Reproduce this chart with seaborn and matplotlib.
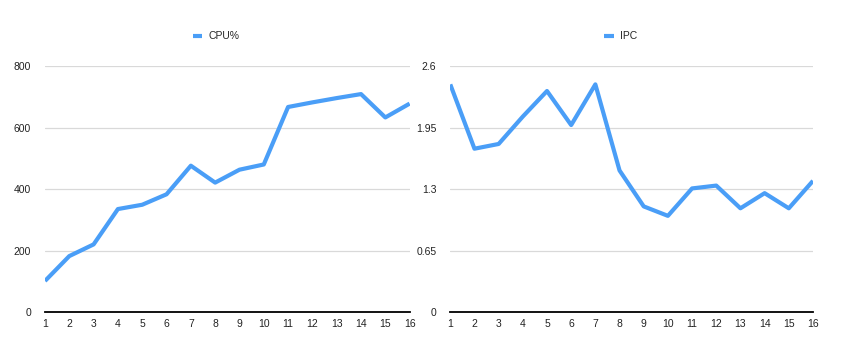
import pandas as pd
import seaborn as sns
import matplotlib.pyplot as plt

# values
runs = list(range(1, 17))
cpu_pct = [102, 183, 221, 336, 350, 384, 477, 422, 464, 481, 668, 683, 697, 710, 634, 679]
ipc = [2.41, 1.73, 1.78, 2.07, 2.34, 1.98, 2.41, 1.50, 1.12, 1.02, 1.31, 1.34, 1.10, 1.26, 1.10, 1.39]
cpu_ticks = [0, 200, 400, 600, 800]
ipc_ticks = [0, 0.65, 1.3, 1.95, 2.6]
ipc_labels = ["0", "0.65", "1.3", "1.95", "2.6"]

df = pd.DataFrame({"run": runs, "CPU%": cpu_pct, "IPC": ipc})

sns.set_style("white")
plt.rcParams["font.family"] = ["Liberation Sans", "DejaVu Sans"]

blue = "#4a9ef7"
fig = plt.figure(figsize=(8.52, 3.59), dpi=100)
ax1 = fig.add_axes([0.0528, 0.130, 0.428, 0.685])
ax2 = fig.add_axes([0.5285, 0.130, 0.4257, 0.685])

panels = [
    (ax1, "CPU%", cpu_ticks, [str(t) for t in cpu_ticks], 800),
    (ax2, "IPC", ipc_ticks, ipc_labels, 2.6),
]

for ax, col, ticks, labels, top in panels:
    sns.lineplot(data=df, x="run", y=col, ax=ax, color=blue, linewidth=3,
                 label=col, solid_joinstyle="round", solid_capstyle="butt")
    ax.set_xlim(1, 16)
    ax.set_ylim(0, top)
    ax.set_xticks(runs)
    ax.set_yticks(ticks)
    ax.set_yticklabels(labels)
    ax.set_xlabel("")
    ax.set_ylabel("")
    ax.grid(axis="y", color="#d9d9d9", linewidth=0.9)
    ax.set_axisbelow(True)
    for side in ["top", "right", "left"]:
        ax.spines[side].set_visible(False)
    ax.spines["bottom"].set_color("black")
    ax.spines["bottom"].set_linewidth(1.3)
    ax.tick_params(axis="both", length=0, labelsize=7.5, colors="#222222")
    ax.tick_params(axis="x", pad=5)
    ax.tick_params(axis="y", pad=10)
    ax.legend(loc="center", bbox_to_anchor=(0.47, 1.122), frameon=False,
              fontsize=7.5, handlelength=0.9, handletextpad=0.6)

fig.savefig("out.png", dpi=100)
